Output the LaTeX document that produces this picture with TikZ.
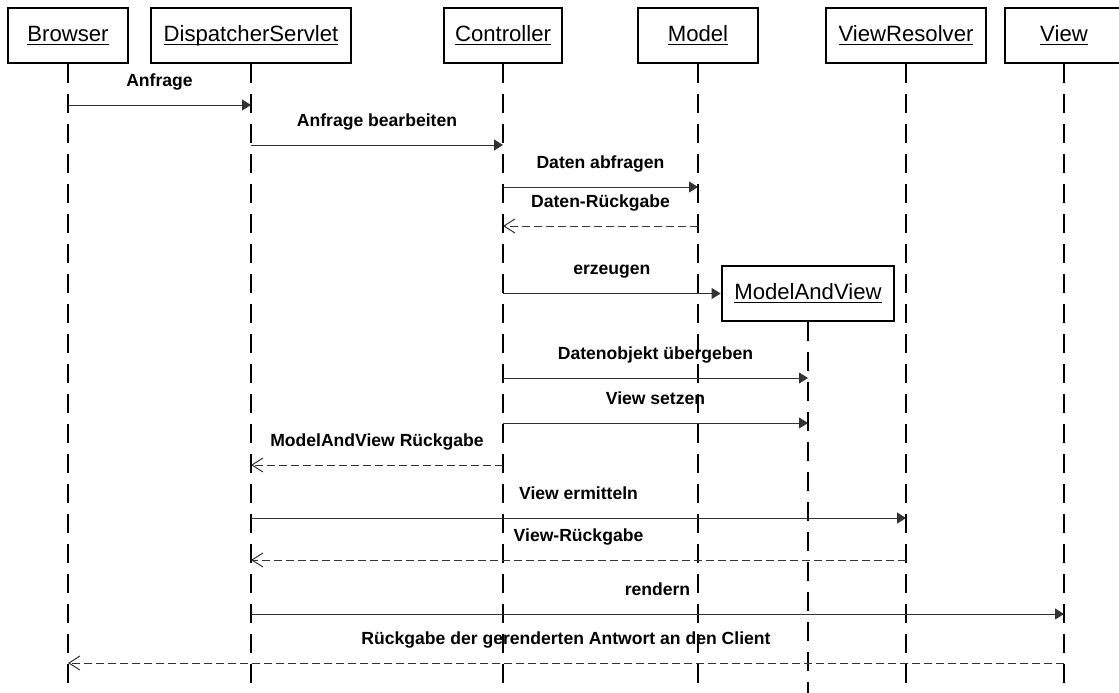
\documentclass[tikz,border=0pt]{standalone}
\usepackage{amsmath}
\usepackage{fontspec}
\setmainfont{Liberation Sans}
\usepackage{tikz}
\usetikzlibrary{arrows.meta}

\begin{document}
\begin{tikzpicture}[x=0.02cm, y=-0.02cm]
  \tikzstyle{object}=[draw, line width=0.046cm, minimum height=1.09cm, inner sep=0pt, font=\fontsize{12.6}{14}\selectfont]
  \tikzstyle{lifeline}=[line width=0.046cm, dash pattern=on 0.38cm off 0.22cm]
  \tikzstyle{call}=[draw=black!80, line width=0.02cm, -{Triangle[length=0.18cm, width=0.22cm]}]
  \tikzstyle{reply}=[draw=black!80, line width=0.02cm, dash pattern=on 0.16cm off 0.08cm, -{Straight Barb[length=0.22cm, width=0.28cm]}]
  \tikzstyle{msg}=[anchor=base, yshift=0.38cm, inner sep=0pt, font=\fontsize{10}{12}\selectfont\bfseries]

  \pgfmathsetmacro{\bottom}{693}

  \useasboundingbox (0,0) rectangle (1119,\bottom);

  % objects
  \node (browser)    [object, minimum width=2.39cm] at (68,35.5)   {\underline{\smash[b]{Browser}}};
  \node (dispatcher) [object, minimum width=3.99cm] at (251,35.5)  {\underline{\smash[b]{DispatcherServlet}}};
  \node (controller) [object, minimum width=2.37cm] at (503,35.5)  {\underline{\smash[b]{Controller}}};
  \node (model)      [object, minimum width=2.39cm] at (698,35.5)  {\underline{\smash[b]{Model}}};
  \node (resolver)   [object, minimum width=3.19cm] at (906,35.5)  {\underline{\smash[b]{ViewResolver}}};
  \node (view)       [object, minimum width=2.35cm] at (1064,35.5) {\underline{\smash[b]{View}}};
  \node (mav)        [object, minimum width=3.45cm] at (808,293.5) {\underline{\smash[b]{ModelAndView}}};

  \foreach \n in {browser,dispatcher,controller,model,resolver,view,mav} {
    \draw[lifeline] (\n.south) -- (\n |- 0,\bottom);
  }

  % messages
  \foreach \y/\a/\b/\s/\t in {
      105/browser/dispatcher/call/Anfrage,
      145/dispatcher/controller/call/Anfrage bearbeiten,
      187/controller/model/call/Daten abfragen,
      226/model/controller/reply/Daten-Rückgabe,
      293.5/controller/mav.west/call/erzeugen,
      378/controller/mav/call/Datenobjekt übergeben,
      423/controller/mav/call/View setzen,
      465/controller/dispatcher/reply/ModelAndView Rückgabe,
      518/dispatcher/resolver/call/View ermitteln,
      560/resolver/dispatcher/reply/View-Rückgabe,
      614/dispatcher/view/call/rendern,
      663/view/browser/reply/Rückgabe der gerenderten Antwort an den Client} {
    \draw[\s] (\a |- 0,\y) -- node[msg] {\t} (\b |- 0,\y);
  }

\end{tikzpicture}
\end{document}
